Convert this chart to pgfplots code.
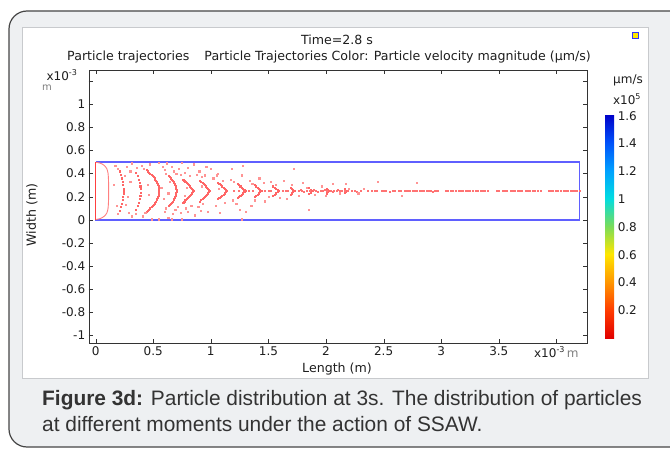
\documentclass[border=0pt]{standalone}
\usepackage{pgfplots}
\pgfplotsset{compat=1.18}
\usepackage{fontspec}
\setmainfont{DejaVu Sans}
\newfontfamily\capfont{Liberation Sans}
\definecolor{bgpanel}{RGB}{238,240,242}
\definecolor{framegray}{RGB}{70,70,70}
\definecolor{panelline}{RGB}{200,202,205}
\definecolor{captext}{RGB}{51,51,51}
\definecolor{txt}{RGB}{30,30,30}
\definecolor{rectblue}{RGB}{95,95,255}
\newcommand{\cf}{\fontsize{12}{13}\selectfont}
\newcommand{\tf}{\fontsize{12.6}{14}\selectfont}
\pgfplotsset{colormap={comsolrainbow}{rgb255(0cm)=(225,0,0) rgb255(1cm)=(255,60,0) rgb255(2cm)=(255,150,0) rgb255(3cm)=(255,230,0) rgb255(4cm)=(120,220,90) rgb255(5cm)=(0,220,225) rgb255(6cm)=(0,160,255) rgb255(7cm)=(0,80,250) rgb255(8cm)=(0,0,200)}}

\begin{document}
\begin{tikzpicture}[x=1pt,y=1pt]
\path[use as bounding box] (0,0) rectangle (670,453);
\fill[white] (0,0) rectangle (670,453);
\begin{scope}
\clip (0,0) rectangle (670,453);
\draw[fill=bgpanel, draw=framegray, line width=1.2pt, rounded corners=18pt] (9,6) rectangle (700,442);
\end{scope}
\draw[fill=white, draw=panelline] (22,75) rectangle (648,426);
\draw[fill=yellow!90!orange, draw=blue!80, line width=1pt] (632,414) rectangle (638,420);

\begin{axis}[
  at={(77,95)}, anchor=south west,
  width=498pt, height=273pt, scale only axis,
  xmin=-0.06, xmax=4.263, ymin=-1.069, ymax=1.294,
  xtick={0,0.5,1,1.5,2,2.5,3,3.5,4},
  xticklabels={0,0.5,1,1.5,2,2.5,3,3.5,{x10\textsuperscript{-3}\,\textcolor{gray}{m}}},
  ytick={-1,-0.8,-0.6,-0.4,-0.2,0,0.2,0.4,0.6,0.8,1,1.2},
  yticklabels={-1,-0.8,-0.6,-0.4,-0.2,0,0.2,0.4,0.6,0.8,1,},
  ticklabel style={font=\cf, text=txt},
  axis line style={gray!40!black},
  tick style={gray!40!black},
  major tick length=4pt,
  point meta min=0, point meta max=1.61,
  colormap name=comsolrainbow,
  colorbar,
  colorbar style={
    at={(parent axis.south east)}, anchor=south west,
    xshift=10pt, yshift=5pt,
    width=9pt, height=224pt,
    ytick={0.2,0.4,0.6,0.8,1,1.2,1.4,1.6},
    yticklabels={0.2,0.4,0.6,0.8,1,1.2,1.4,1.6},
    yticklabel style={font=\cf, text=txt},
    major tick length=0pt,
    axis line style={draw=none},
  },
]
% channel outline
\addplot[rectblue, line width=1.6pt] coordinates {(0,0.5) (0,0) (4.2,0) (4.2,0.5) (0,0.5)};
\addplot[red!75, line width=1.3pt] coordinates {(0,0) (0,0.5)};
% particles piled up near the inlet
\addplot[red!50, line width=0.9pt, smooth] coordinates {(0.005,0.497) (0.04,0.49) (0.075,0.47) (0.098,0.44) (0.108,0.40) (0.112,0.34) (0.113,0.25) (0.112,0.16) (0.108,0.10) (0.098,0.06) (0.075,0.03) (0.04,0.01) (0.005,0.003)};
% focused arcs
\addplot[only marks, mark=square*, mark size=0.55pt, red!60] coordinates {
(0.211,0.42)(0.220,0.39)(0.228,0.36)(0.234,0.33)(0.238,0.30)(0.240,0.27)(0.240,0.25)(0.240,0.23)(0.238,0.20)(0.234,0.17)(0.228,0.14)(0.220,0.11)(0.211,0.08)
(0.349,0.41)(0.363,0.38)(0.374,0.35)(0.382,0.32)(0.387,0.29)(0.390,0.265)(0.390,0.235)(0.387,0.21)(0.382,0.18)(0.374,0.15)(0.363,0.12)(0.349,0.09)
(0.440,0.43)(0.452,0.42)(0.463,0.41)(0.473,0.40)(0.483,0.39)(0.492,0.38)(0.501,0.37)(0.509,0.36)(0.516,0.35)(0.522,0.34)(0.528,0.33)(0.534,0.32)(0.538,0.31)(0.542,0.30)(0.545,0.29)(0.548,0.28)(0.549,0.27)(0.550,0.26)(0.550,0.25)(0.550,0.24)(0.549,0.23)(0.548,0.22)(0.545,0.21)(0.542,0.20)(0.538,0.19)(0.534,0.18)(0.528,0.17)(0.522,0.16)(0.516,0.15)(0.509,0.14)(0.501,0.13)(0.492,0.12)(0.483,0.11)(0.473,0.10)(0.463,0.09)(0.452,0.08)(0.440,0.07)
(0.632,0.38)(0.643,0.37)(0.652,0.36)(0.661,0.35)(0.668,0.34)(0.675,0.33)(0.680,0.32)(0.686,0.31)(0.690,0.30)(0.694,0.29)(0.696,0.28)(0.699,0.27)(0.700,0.26)(0.700,0.25)(0.700,0.24)(0.699,0.23)(0.696,0.22)(0.694,0.21)(0.690,0.20)(0.686,0.19)(0.680,0.18)(0.675,0.17)(0.668,0.16)(0.661,0.15)(0.652,0.14)(0.643,0.13)(0.632,0.12)
(0.760,0.35)(0.769,0.34)(0.778,0.33)(0.787,0.32)(0.796,0.31)(0.805,0.30)(0.814,0.29)(0.823,0.28)(0.832,0.27)(0.841,0.26)(0.850,0.25)(0.841,0.24)(0.832,0.23)(0.823,0.22)(0.814,0.21)(0.805,0.20)(0.796,0.19)(0.787,0.18)(0.778,0.17)(0.769,0.16)(0.760,0.15)
(0.900,0.34)(0.913,0.33)(0.927,0.32)(0.936,0.31)(0.945,0.30)(0.954,0.29)(0.963,0.28)(0.972,0.27)(0.981,0.26)(0.990,0.25)(0.981,0.24)(0.972,0.23)(0.963,0.22)(0.954,0.21)(0.945,0.20)(0.936,0.19)(0.927,0.18)(0.913,0.17)(0.900,0.16)
(1.060,0.32)(1.073,0.31)(1.085,0.30)(1.098,0.29)(1.110,0.28)(1.118,0.27)(1.128,0.26)(1.140,0.25)(1.128,0.24)(1.118,0.23)(1.110,0.22)(1.098,0.21)(1.085,0.20)(1.073,0.19)(1.060,0.18)
(1.230,0.31)(1.243,0.30)(1.255,0.29)(1.268,0.28)(1.280,0.27)(1.290,0.26)(1.300,0.25)(1.290,0.24)(1.280,0.23)(1.268,0.22)(1.255,0.21)(1.243,0.20)(1.230,0.19)
(1.380,0.30)(1.392,0.29)(1.404,0.28)(1.416,0.27)(1.428,0.26)(1.440,0.25)(1.428,0.24)(1.416,0.23)(1.404,0.22)(1.392,0.21)(1.380,0.20)
(1.540,0.29)(1.553,0.28)(1.565,0.27)(1.578,0.26)(1.590,0.25)(1.578,0.24)(1.565,0.23)(1.553,0.22)(1.540,0.21)
(1.690,0.28)(1.700,0.27)(1.712,0.26)(1.725,0.25)(1.712,0.24)(1.700,0.23)(1.690,0.22)
(1.850,0.275)(1.865,0.262)(1.880,0.25)(1.865,0.238)(1.850,0.225)
(2.005,0.27)(2.018,0.26)(2.030,0.25)(2.018,0.24)(2.005,0.23)
(2.160,0.265)(2.170,0.255)(2.180,0.25)(2.170,0.245)(2.160,0.235)
};
% particles travelling along the pressure node
\addplot[only marks, mark=square*, mark size=0.5pt, red!55] coordinates {
(1.20,0.25)(1.24,0.25)(1.33,0.25)(1.36,0.25)(1.47,0.25)(1.50,0.25)(1.52,0.25)(1.62,0.25)(1.65,0.25)(1.67,0.25)
(1.76,0.25)(1.78,0.26)(1.79,0.25)(1.81,0.24)(1.83,0.25)(1.86,0.25)(1.89,0.26)(1.91,0.25)(1.93,0.24)(1.95,0.25)(1.97,0.25)(1.99,0.26)(2.01,0.25)(2.04,0.25)(2.06,0.24)(2.07,0.25)(2.09,0.25)(2.10,0.26)(2.12,0.25)(2.14,0.25)(2.16,0.25)(2.19,0.25)
(2.22,0.25)(2.25,0.25)(2.27,0.245)(2.30,0.25)(2.36,0.25)(2.40,0.25)(2.42,0.255)(2.44,0.25)(2.48,0.25)(2.50,0.25)(2.52,0.25)(2.55,0.245)(2.58,0.25)(2.60,0.25)(2.63,0.25)(2.65,0.25)(2.68,0.25)
(2.70,0.25)(2.72,0.25)(2.73,0.25)(2.75,0.25)(2.76,0.25)(2.78,0.25)(2.79,0.25)(2.81,0.25)(2.82,0.25)(2.84,0.25)(2.85,0.25)(2.87,0.25)(2.88,0.25)(2.90,0.25)(2.91,0.25)(2.93,0.245)(2.94,0.25)(2.96,0.25)(2.97,0.25)
(3.04,0.25)(3.06,0.25)(3.08,0.25)(3.10,0.25)(3.13,0.25)(3.15,0.25)(3.17,0.25)(3.19,0.25)(3.21,0.25)(3.23,0.25)(3.25,0.25)(3.27,0.25)(3.30,0.25)(3.32,0.25)(3.34,0.25)(3.36,0.25)(3.38,0.25)(3.40,0.25)
(3.48,0.25)(3.50,0.25)(3.53,0.25)(3.55,0.25)(3.57,0.25)(3.60,0.25)(3.62,0.25)(3.64,0.25)(3.66,0.25)(3.68,0.25)(3.70,0.25)(3.73,0.25)(3.75,0.25)(3.77,0.25)(3.79,0.25)(3.81,0.25)(3.84,0.25)(3.86,0.25)
(3.93,0.25)(3.95,0.25)(3.97,0.25)(3.99,0.25)(4.01,0.25)(4.04,0.25)(4.06,0.25)(4.08,0.25)(4.10,0.25)(4.12,0.25)(4.14,0.25)(4.16,0.25)(4.18,0.25)(4.20,0.25)
};
% scattered particles
\addplot[only marks, mark=square*, mark size=0.6pt, red!42] coordinates {
(0.17,0.47)(0.19,0.44)(0.16,0.30)(0.18,0.12)(0.19,0.05)(0.27,0.46)(0.30,0.42)(0.31,0.49)(0.29,0.06)(0.31,0.03)(0.28,0.20)(0.30,0.33)
(0.40,0.47)(0.42,0.44)(0.41,0.03)(0.43,0.06)(0.45,0.30)(0.46,0.22)(0.47,0.48)(0.49,0.005)(0.36,0.45)(0.35,0.05)(0.25,0.38)(0.26,0.13)
(0.55,0.495)(0.55,0.005)(0.58,0.46)(0.60,0.43)(0.61,0.40)(0.62,0.49)(0.60,0.07)(0.61,0.10)(0.63,0.02)(0.66,0.005)(0.57,0.28)(0.59,0.18)
(0.66,0.46)(0.68,0.42)(0.70,0.40)(0.72,0.44)(0.67,0.05)(0.69,0.09)(0.71,0.11)(0.74,0.06)(0.75,0.495)(0.75,0.005)(0.64,0.33)(0.63,0.23)
(0.74,0.39)(0.77,0.41)(0.80,0.45)(0.82,0.38)(0.78,0.10)(0.80,0.07)(0.83,0.12)(0.85,0.48)(0.86,0.04)(0.79,0.28)(0.77,0.21)
(0.88,0.39)(0.90,0.42)(0.92,0.37)(0.95,0.385)(0.89,0.11)(0.91,0.08)(0.93,0.14)(0.97,0.07)(0.96,0.46)(0.92,0.29)
(1.02,0.36)(1.05,0.385)(1.08,0.06)(1.04,0.12)(1.06,0.40)(1.10,0.34)(1.12,0.15)(1.00,0.44)(1.07,0.27)
(1.18,0.44)(1.17,0.35)(1.20,0.33)(1.22,0.14)(1.19,0.17)(1.27,0.385)(1.28,0.47)(1.27,0.005)(1.30,0.07)(1.25,0.09)
(1.34,0.34)(1.36,0.31)(1.38,0.17)(1.35,0.12)(1.42,0.36)(1.46,0.32)(1.47,0.16)(1.50,0.20)(1.52,0.33)
(1.56,0.30)(1.60,0.19)(1.63,0.34)(1.66,0.18)(1.72,0.44)(1.70,0.30)(1.76,0.21)(1.80,0.32)(1.85,0.09)(1.83,0.28)(1.90,0.22)
(1.96,0.29)(2.00,0.21)(2.06,0.31)(2.17,0.31)(2.20,0.27)(2.12,0.23)(2.45,0.33)(2.66,0.21)(2.79,0.32)(2.33,0.27)(2.28,0.23)
};
\end{axis}

% titles and labels
\node[font=\tf, text=txt] at (337,413) {Time=2.8 s};
\node[font=\tf, text=txt] at (329,396) {Particle trajectories\hspace{15pt}Particle Trajectories Color: Particle velocity magnitude (µm/s)};
\node[font=\tf, text=txt, rotate=90] at (32,238) {Width (m)};
\node[font=\tf, text=txt] at (337,84) {Length (m)};
\node[font=\cf, text=txt] at (62,378) {x10\textsuperscript{-3}};
\node[font=\fontsize{10}{12}\selectfont, text=gray] at (47,365) {m};
\node[font=\cf, text=txt] at (628,373) {µm/s};
\node[font=\cf, text=txt] at (627,354) {x10\textsuperscript{5}};

% caption
\node[anchor=base west, inner sep=0, font=\capfont\fontsize{20.9}{24}\selectfont, text=captext] at (42,47) {\textbf{Figure 3d:} Particle distribution at 3s. The distribution of particles};
\node[anchor=base west, inner sep=0, font=\capfont\fontsize{20.9}{24}\selectfont, text=captext] at (42,22) {at different moments under the action of SSAW.};
\end{tikzpicture}
\end{document}
